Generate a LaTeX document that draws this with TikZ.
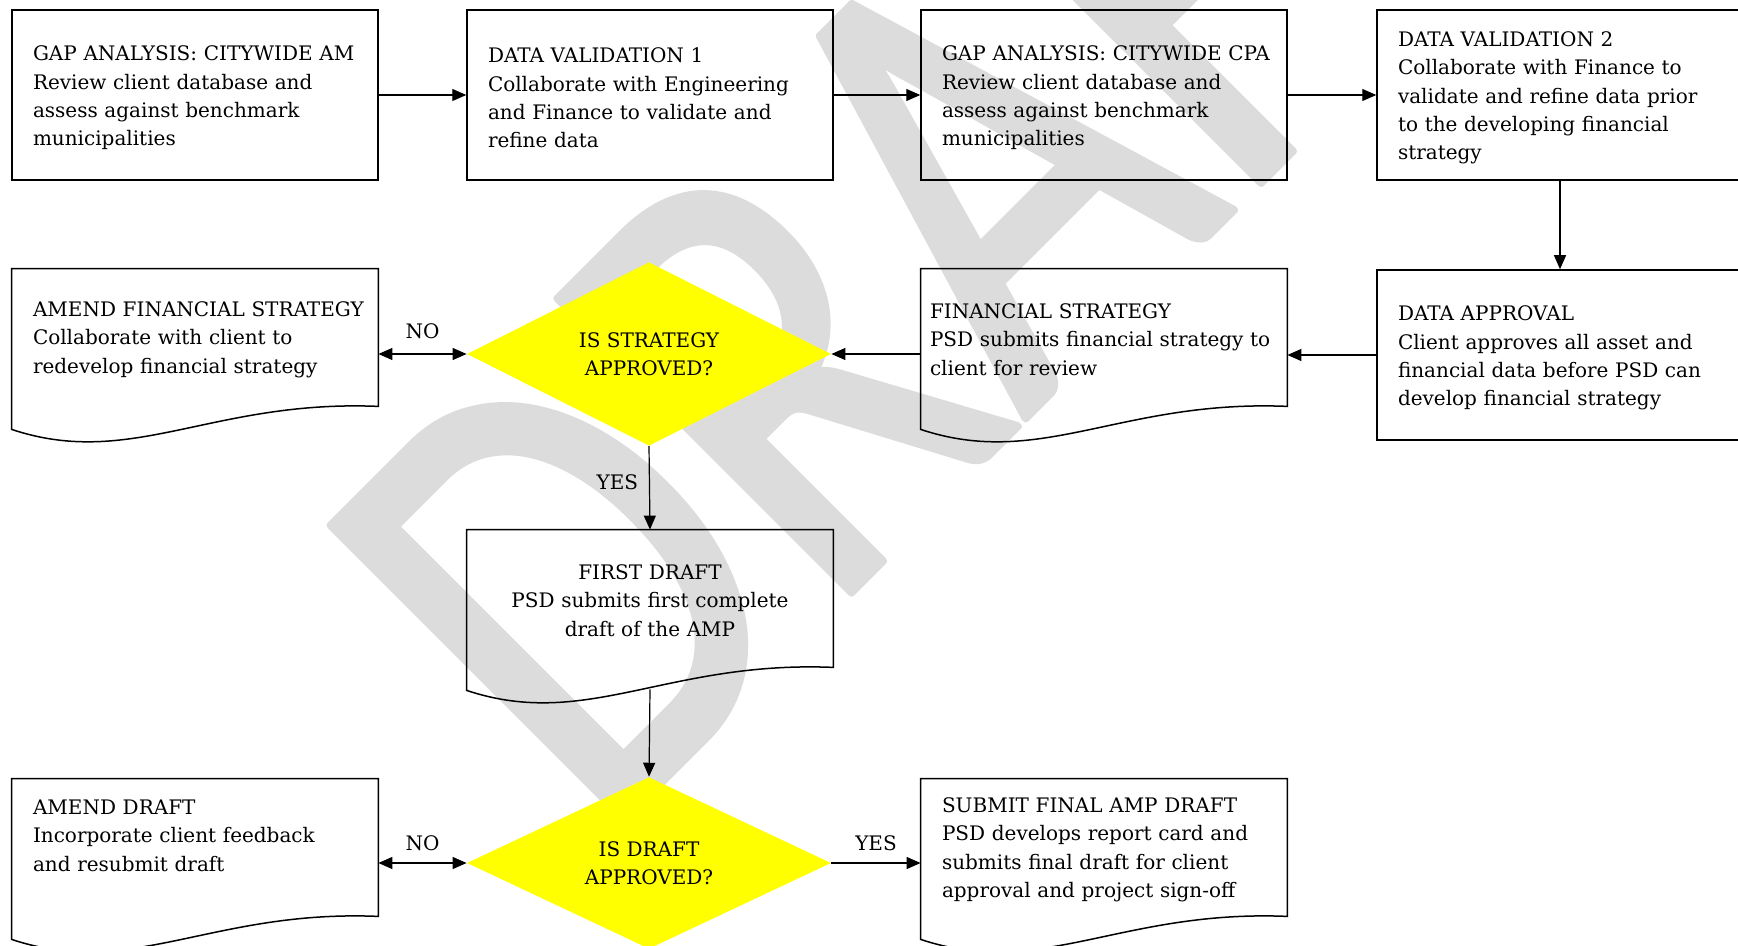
\documentclass[tikz,border=0pt]{standalone}
\usepackage{fontspec}
\setmainfont{DejaVu Serif}
\newfontfamily\filigranefont{Carlito}
\usepackage{xcolor}
\definecolor{jaune}{RGB}{255,255,0}
\definecolor{Gris}{RGB}{220,220,220}
\usepackage{pgf,tikz}
\usetikzlibrary{shapes,arrows.meta,calc,positioning}
\hyphenpenalty=10000
\exhyphenpenalty=10000

\newcommand{\vague}[1]{\draw[line width=0.75pt] (#1.north west) -- (#1.north east) -- (#1.south east)
  .. controls ($(#1.south west)+(200,-7)$) and ($(#1.south west)+(120,63)$) .. ($(#1.south west)+(0,23)$) -- cycle;}
\newcommand{\arrondi}[1]{\special{pdf:literal direct 2 Tr 4 w 1 j 0.863 G}#1\special{pdf:literal direct 0 Tr 0 G}}

\begin{document}
\begin{tikzpicture}[x=0.5pt,y=-0.5pt,
  every node/.style={font=\fontsize{10pt}{14.15pt}\selectfont},
  boite/.style={draw,line width=0.75pt,minimum width=183pt,minimum height=85pt,inner xsep=10.5pt,text width=162pt,align=left,
    execute at begin node=\rule{0pt}{10.4pt}},
  doc/.style={minimum width=183pt,minimum height=68.5pt,inner xsep=10.5pt,text width=162pt,align=left,
    execute at begin node=\rule{0pt}{9.6pt}},
  choix/.style={diamond,fill=jaune,minimum width=182pt,minimum height=84.5pt,inner sep=0pt,align=center},
  fleche/.style={line width=0.6pt,-{Triangle[length=7pt,width=6pt]}},
  deuxfleche/.style={line width=0.6pt,{Triangle[length=7pt,width=6pt]}-{Triangle[length=7pt,width=6pt]}}]
\clip (0,0) rectangle (1738,946);
\fill[white] (0,0) rectangle (1738,946);
\node[text=Gris,inner sep=0pt,anchor=base west,rotate=45,xscale=0.8,
  font=\filigranefont\fontsize{324pt}{324pt}\selectfont] (filigrane) at (599,845) {\arrondi{DRAFT}};

\node[boite] (gap1) at (195,95) {GAP~ANALYSIS:~CITYWIDE~AM\\Review client database and\\assess against benchmark\\municipalities};
\node[boite] (valid1) at (650,95) {DATA VALIDATION 1\\Collaborate with Engineering\\and Finance to validate and\\refine data};
\node[boite] (gap2) at (1104,95) {GAP~ANALYSIS:~CITYWIDE~CPA\\Review client database and\\assess against benchmark\\municipalities};
\node[boite] (valid2) at (1560,95) {DATA VALIDATION 2\\Collaborate with Finance to\\validate and refine data prior\\to the developing financial\\strategy};
\node[boite] (approb) at (1560,355) {DATA APPROVAL\\Client approves all asset and\\financial data before PSD can\\develop financial strategy};
\node[doc,inner xsep=4.5pt,text width=174pt] (strat) at (1104,337.5) {FINANCIAL STRATEGY\\PSD~submits~financial~strategy~to\\client for review};
\node[choix] (q1) at (649,354) {IS STRATEGY\\APPROVED?};
\node[doc] (amend1) at (195,337.5) {AMEND~FINANCIAL~STRATEGY\\Collaborate with client to\\redevelop financial strategy};
\node[doc,align=center] (draft1) at (650,598.5) {FIRST DRAFT\\PSD submits first complete\\draft of the AMP};
\node[choix] (q2) at (649,863) {IS DRAFT\\APPROVED?};
\node[doc,execute at begin node={}] (amend2) at (195,847.5) {AMEND DRAFT\\Incorporate client feedback\\and resubmit draft\\\mbox{}};
\node[doc] (final) at (1104,847.5) {SUBMIT FINAL AMP DRAFT\\PSD develops report card and\\submits final draft for client\\approval and project sign-off};

\vague{strat}
\vague{amend1}
\vague{draft1}
\vague{amend2}
\vague{final}

\draw[fleche] (gap1) -- (valid1);
\draw[fleche] (valid1) -- (gap2);
\draw[fleche] (gap2) -- (valid2);
\draw[fleche] (valid2) -- (approb);
\draw[fleche] (approb.west) -- (approb.west -| strat.east);
\draw[fleche] (q1.east -| strat.west) -- (q1.east);
\draw[deuxfleche] (q1.west -| amend1.east) -- node[above=4pt] {NO} (q1.west);
\draw[fleche] (q1.south) -- node[pos=0.43,left=2pt] {YES} (draft1.north);
\draw[fleche] ($(draft1.south)+(0,22)$) -- (q2.north);
\draw[deuxfleche] (q2.west -| amend2.east) -- node[above=2.5pt] {NO} (q2.west);
\draw[fleche] (q2.east) -- node[above=2.5pt] {YES} (q2.east -| final.west);
\end{tikzpicture}
\end{document}
